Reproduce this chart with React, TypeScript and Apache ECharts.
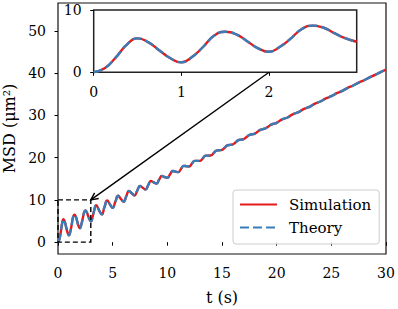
import React, { useEffect, useRef } from "react";
import * as echarts from "echarts";

// time (s)
const timeS = [
  0, 0.125, 0.25, 0.375, 0.5, 0.625, 0.75, 0.875, 1, 1.125, 1.25, 1.375, 1.5, 1.625, 1.75, 1.875,
  2, 2.125, 2.25, 2.375, 2.5, 2.625, 2.75, 2.875, 3,
  3.25, 3.5, 3.75, 4, 4.25, 4.5, 4.75, 5, 5.25, 5.5, 5.75, 6, 6.25, 6.5, 6.75, 7, 7.25, 7.5, 7.75,
  8, 8.25, 8.5, 8.75, 9, 9.25, 9.5, 9.75, 10, 10.25, 10.5, 10.75, 11, 11.25, 11.5, 11.75,
  12, 12.25, 12.5, 12.75, 13, 13.25, 13.5, 13.75, 14, 14.25, 14.5, 14.75, 15, 15.25, 15.5, 15.75,
  16, 16.25, 16.5, 16.75, 17, 17.25, 17.5, 17.75, 18, 18.25, 18.5, 18.75, 19, 19.25, 19.5, 19.75,
  20, 20.5, 21, 21.5, 22, 22.5, 23, 23.5, 24, 24.5, 25, 25.5, 26, 26.5, 27, 27.5, 28, 28.5, 29, 29.5, 30,
];

// MSD (um^2), simulation
const msdSimulation = [
  0, 0.64, 2.35, 4.4, 5.45, 4.8, 3.5, 2.25, 1.6, 2.5, 4.1, 5.9, 6.5, 6.1, 5.0, 3.85,
  3.3, 4.1, 5.45, 6.95, 7.5, 7.15, 6.25, 5.45, 4.9,
  6.93, 8.74, 7.6, 6.58, 8.28, 9.86, 8.94, 8.12, 9.6, 11.0, 10.26, 9.61, 10.91, 12.14, 11.57, 11.06, 12.21, 13.31, 12.86,
  12.47, 13.5, 14.48, 14.15, 13.86, 14.79, 15.66, 15.42, 15.23, 16.06, 16.85, 16.7, 16.58, 17.33, 18.05, 17.97,
  17.91, 18.6, 19.25, 19.23, 19.23, 19.86, 20.47, 20.49, 20.54, 21.12, 21.68, 21.75, 21.84, 22.38, 22.9, 23.01,
  23.13, 23.64, 24.13, 24.26, 24.41, 24.89, 25.36, 25.52, 25.69, 26.15, 26.59, 26.77, 26.97, 27.4, 27.82, 28.03,
  28.24, 29.06, 29.51, 30.3, 30.77, 31.54, 32.03, 32.78, 33.29, 34.02, 34.55, 35.26, 35.81, 36.51, 37.07, 37.75, 38.32, 39.0, 39.58, 40.25, 40.83,
];

// MSD (um^2), theory (overlaps the simulation)
const msdTheory = msdSimulation.slice();

const xTicks = [0, 5, 10, 15, 20, 25, 30];
const yTicks = [0, 10, 20, 30, 40, 50];
const insetXTicks = [0, 1, 2];
const insetYTicks = [0, 10];

const FONT = "DejaVu Serif";
const RED = "#e41a1c";
const BLUE = "#377eb8";

export default function App() {
  const ref = useRef<HTMLDivElement>(null);
  useEffect(() => {
    document.body.style.margin = "0";
    if (!ref.current) return;
    const chart = echarts.init(ref.current, undefined, { renderer: "svg" });
    const sim = timeS.map((t, i) => [t, msdSimulation[i]]);
    const th = timeS.map((t, i) => [t, msdTheory[i]]);
    const simIn = sim.filter((p) => p[0] <= 3);
    const thIn = th.filter((p) => p[0] <= 3);

    const axisCommon = {
      type: "value" as const,
      axisLine: { show: false },
      splitLine: { show: false },
      axisTick: { length: 3.5, lineStyle: { color: "#000", width: 1 } },
    };

    const simStyle = { color: RED, width: 2.4 };
    const thStyle = { color: BLUE, width: 2.4, type: [9, 4] as any };

    chart.setOption({
      animation: false,
      textStyle: { fontFamily: FONT, color: "#000" },
      grid: [
        { left: 58, top: 3, right: 12, bottom: 55, show: true, borderColor: "#111", borderWidth: 1.2, backgroundColor: "transparent", outerBoundsMode: "none", containLabel: false },
        { left: 93.7, top: 10, width: 263, height: 62.3, show: true, borderColor: "#222", borderWidth: 1.5, backgroundColor: "#fff", outerBoundsMode: "none", containLabel: false },
      ],
      xAxis: [
        {
          ...axisCommon, gridIndex: 0, min: 0, max: 30, interval: 5,
          axisLabel: { fontSize: 14, color: "#000", margin: 12, fontFamily: FONT, customValues: xTicks },
          axisTick: { ...axisCommon.axisTick, customValues: xTicks },
          name: "t (s)", nameLocation: "middle", nameGap: 35,
          nameTextStyle: { fontSize: 16, color: "#000", fontFamily: FONT },
        },
        {
          ...axisCommon, gridIndex: 1, min: 0, max: 3,
          axisLabel: { fontSize: 14, color: "#000", margin: 13, fontFamily: FONT, customValues: insetXTicks },
          axisTick: { ...axisCommon.axisTick, customValues: insetXTicks },
        },
      ],
      yAxis: [
        {
          ...axisCommon, gridIndex: 0, min: -2.8, max: 56.6,
          axisLabel: { fontSize: 14, color: "#000", margin: 12, fontFamily: FONT, customValues: yTicks },
          axisTick: { ...axisCommon.axisTick, customValues: yTicks },
          name: "MSD (μm²)", nameLocation: "middle", nameGap: 36, nameRotate: 90,
          nameTextStyle: { fontSize: 16, color: "#000", fontFamily: FONT },
        },
        {
          ...axisCommon, gridIndex: 1, min: 0, max: 10,
          axisLabel: { fontSize: 14, color: "#000", margin: 12, fontFamily: FONT, customValues: insetYTicks },
          axisTick: { ...axisCommon.axisTick, customValues: insetYTicks },
        },
      ],
      legend: {
        data: ["Simulation", "Theory"],
        orient: "vertical",
        left: 233,
        top: 190,
        itemWidth: 37,
        itemHeight: 14,
        itemGap: 8,
        padding: [7, 8, 9, 6],
        backgroundColor: "rgba(255,255,255,0.85)",
        borderColor: "#cccccc",
        borderWidth: 1,
        borderRadius: 3,
        selectedMode: false,
        itemStyle: { opacity: 0, borderWidth: 0 },
        textStyle: { fontSize: 15, color: "#000", fontFamily: FONT, padding: [0, 0, 0, 7] },
      },
      series: [
        { name: "Simulation", type: "line", xAxisIndex: 0, yAxisIndex: 0, data: sim, symbol: "none", showSymbol: false, smooth: 0.5, lineStyle: simStyle, itemStyle: { color: RED }, z: 2 },
        { name: "Theory", type: "line", xAxisIndex: 0, yAxisIndex: 0, data: th, symbol: "none", showSymbol: false, smooth: 0.5, lineStyle: thStyle, itemStyle: { color: BLUE }, z: 3 },
        { name: "Simulation", type: "line", xAxisIndex: 1, yAxisIndex: 1, data: simIn, symbol: "none", showSymbol: false, smooth: 0.5, lineStyle: simStyle, itemStyle: { color: RED }, z: 2 },
        { name: "Theory", type: "line", xAxisIndex: 1, yAxisIndex: 1, data: thIn, symbol: "none", showSymbol: false, smooth: 0.5, lineStyle: thStyle, itemStyle: { color: BLUE }, z: 3 },
      ],
    });

    // zoom box and arrow, positioned through the axes
    const b0 = chart.convertToPixel({ xAxisIndex: 0, yAxisIndex: 0 }, [0, 0]) as number[];
    const b1 = chart.convertToPixel({ xAxisIndex: 0, yAxisIndex: 0 }, [3, 10]) as number[];
    const a0 = chart.convertToPixel({ xAxisIndex: 1, yAxisIndex: 1 }, [2, 0]) as number[];
    const a1 = b1;
    const ang = Math.atan2(a1[1] - a0[1], a1[0] - a0[0]);
    const hl = 8, hw = 0.45;
    const h1 = [a1[0] - hl * Math.cos(ang - hw), a1[1] - hl * Math.sin(ang - hw)];
    const h2 = [a1[0] - hl * Math.cos(ang + hw), a1[1] - hl * Math.sin(ang + hw)];
    chart.setOption({
      graphic: [
        {
          type: "rect",
          shape: { x: b0[0], y: b1[1], width: b1[0] - b0[0], height: b0[1] - b1[1] },
          style: { fill: "none", stroke: "#000", lineWidth: 1.4, lineDash: [5, 3] },
          z: 10,
        },
        {
          type: "line",
          shape: { x1: a0[0], y1: a0[1], x2: a1[0], y2: a1[1] },
          style: { stroke: "#000", lineWidth: 1.4 },
          z: 10,
        },
        {
          type: "polyline",
          shape: { points: [h1, a1, h2] },
          style: { stroke: "#000", lineWidth: 1.4, fill: "none" },
          z: 10,
        },
      ],
    });

    return () => chart.dispose();
  }, []);
  return <div ref={ref} style={{ width: 398, height: 309 }} />;
}
